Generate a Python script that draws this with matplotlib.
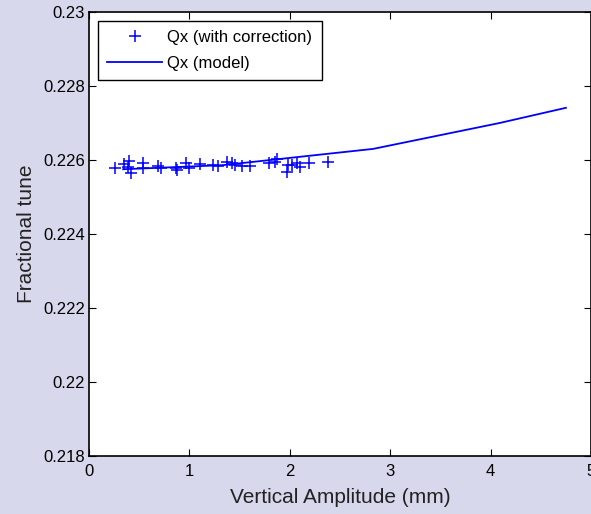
import matplotlib
matplotlib.use('Agg')
import matplotlib.pyplot as plt
from matplotlib.ticker import FormatStrFormatter

# measured tunes (with correction)
amp_meas = [0.26, 0.35, 0.40, 0.42, 0.39, 0.54, 0.54, 0.69, 0.72, 0.87,
            0.88, 0.97, 1.00, 1.11, 1.24, 1.28, 1.37, 1.42, 1.45, 1.52,
            1.60, 1.79, 1.85, 1.87, 1.97, 1.98, 2.02, 2.07, 2.10, 2.19, 2.38]
tune_meas = [0.22579, 0.22588, 0.22597, 0.22564, 0.22581, 0.22591, 0.22578,
             0.22585, 0.22578, 0.22578, 0.22573, 0.22591, 0.22578, 0.22588,
             0.22586, 0.22585, 0.22595, 0.22591, 0.22586, 0.22585, 0.22585,
             0.22593, 0.22595, 0.22602, 0.22568, 0.22586, 0.22586, 0.22591,
             0.22582, 0.22591, 0.22595]

# model curve
amp_model = [0.34, 1.33, 2.83, 4.09, 4.75]
tune_model = [0.22575, 0.22586, 0.22630, 0.22700, 0.22741]

plt.rcParams['font.family'] = ['Liberation Sans', 'DejaVu Sans']

fig = plt.figure(figsize=(5.91, 5.14), dpi=100, facecolor='#d8d8ec')
ax = fig.add_axes([0.1506, 0.1128, 0.8494, 0.8639])
ax.set_facecolor('white')

ax.plot(amp_meas, tune_meas, '+', color='blue', markersize=9, mew=1.1,
        label='Qx (with correction)')
ax.plot(amp_model, tune_model, '-', color='blue', lw=1.3, label='Qx (model)')

ax.set_xlim(0, 5)
ax.set_ylim(0.218, 0.23)
ax.set_xticks([0, 1, 2, 3, 4, 5])
ax.set_yticks([0.218, 0.22, 0.222, 0.224, 0.226, 0.228, 0.23])
ax.yaxis.set_major_formatter(FormatStrFormatter('%g'))
ax.tick_params(direction='in', top=True, right=True, length=5, labelsize=12,
               colors='black', pad=3)
ax.tick_params(axis='x', pad=6)
for s in ax.spines.values():
    s.set_linewidth(1.2)

ax.set_xlabel('Vertical Amplitude (mm)', fontsize=15, color='#222222', labelpad=6)
ax.set_ylabel('Fractional tune', fontsize=15, color='#222222', labelpad=5)

leg = ax.legend(loc='upper left', fontsize=12, fancybox=False, framealpha=1,
                edgecolor='black', borderaxespad=0.55, handlelength=3.3,
                handletextpad=0.3, borderpad=0.55, labelspacing=0.65)
leg.get_frame().set_linewidth(1.0)

fig.savefig('out.png', dpi=100, facecolor=fig.get_facecolor())
